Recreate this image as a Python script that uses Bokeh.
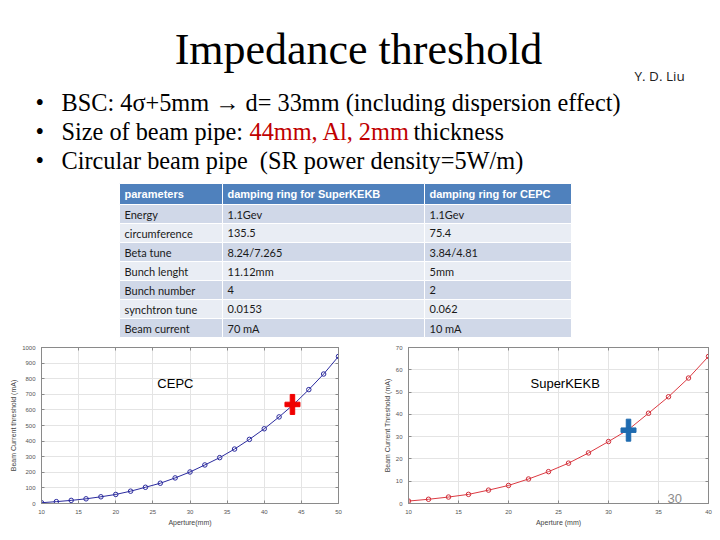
from bokeh.plotting import figure
from bokeh.models import (Range1d, LinearAxis, Label, SingleIntervalTicker,
                          CustomJSTickFormatter)
from bokeh.layouts import column, row
from bokeh.core.properties import value
from bokeh.embed import file_html
from bokeh.resources import INLINE

# ---- slide text ----
title = "Impedance threshold"
author = "Y. D. Liu"
bullet1 = "BSC: 4σ+5mm → d= 33mm (including dispersion effect)"
bullet2_parts = ["Size of beam pipe: ", "44mm, Al, 2mm", "thickness"]
bullet3 = "Circular beam pipe\u00a0\u00a0(SR power density=5W/m)"
page_number = "30"

# ---- parameter table ----
headers = ["parameters", "damping ring for SuperKEKB", "damping ring for CEPC"]
params = ["Energy", "circumference", "Beta tune", "Bunch lenght", "Bunch number",
          "synchtron tune", "Beam current"]
superkekb_vals = ["1.1Gev", "135.5", "8.24/7.265", "11.12mm", "4", "0.0153", "70 mA"]
cepc_vals = ["1.1Gev", "75.4", "3.84/4.81", "5mm", "2", "0.062", "10 mA"]

# ---- threshold curves ----
cepc_aperture = [10, 12, 14, 16, 18, 20, 22, 24, 26, 28, 30, 32, 34, 36, 38, 40,
                 42, 44, 46, 48, 50]
cepc_current = [5, 12, 20, 30, 43, 58, 79, 104, 130, 164, 202, 247, 294, 349, 411,
                479, 555, 637, 730, 830, 943]
cepc_mark = (43.8, 635)

kek_aperture = [10, 12, 14, 16, 18, 20, 22, 24, 26, 28, 30, 32, 34, 36, 38, 40]
kek_current = [1.1, 1.9, 2.9, 4.1, 6.0, 8.1, 11.0, 14.3, 18.1, 22.7, 27.8, 33.2,
               40.5, 47.9, 56.3, 66.0]
kek_mark = (32.0, 32.9)

SERIF = value("Liberation Serif")
SANS = value("Liberation Sans")

# ---------------- top part: title, bullets, table ----------------
top = figure(width=720, height=340, x_range=Range1d(0, 720), y_range=Range1d(340, 0),
             output_backend="svg", toolbar_location=None, min_border=0)
top.axis.visible = False
top.grid.visible = False
top.outline_line_color = None
top.background_fill_color = "white"
top.border_fill_color = "white"

top.text(x=[358], y=[49], text=[title], text_font=SERIF, text_font_size="44px",
         text_align="center", text_baseline="alphabetic", text_color="black")
top.text(x=[634], y=[75], text=[author], text_font=value("Open Sans"),
         text_font_size="13.5px", text_baseline="middle", text_color="#222222")

line_y = [102, 131, 160]
BODY = "24.3px"
top.text(x=[35] * 3, y=line_y, text=["•"] * 3, text_font=SERIF, text_font_size=BODY,
         text_baseline="alphabetic", text_color="black")
top.text(x=[61, 61], y=[line_y[0], line_y[2]], text=[bullet1, bullet3], text_font=SERIF,
         text_font_size=BODY, text_baseline="alphabetic", text_color="black")
top.text(x=[61, 413], y=[line_y[1]] * 2, text=[bullet2_parts[0], bullet2_parts[2]],
         text_font=SERIF, text_font_size=BODY, text_baseline="alphabetic",
         text_color="black")
top.text(x=[249], y=[line_y[1]], text=[bullet2_parts[1]], text_font=SERIF,
         text_font_size=BODY, text_baseline="alphabetic", text_color="#c00000")

# table cells
col_edges = [119, 222, 424, 571]
head_top, head_bot = 183, 204
row_h = 19
n_rows = len(params)

top.quad(left=[col_edges[i] for i in range(3)], right=[col_edges[i + 1] for i in range(3)],
         top=[head_top] * 3, bottom=[head_bot] * 3, fill_color="#4f81bd",
         line_color="white", line_width=1)
lefts, rights, tops, bots, fills = [], [], [], [], []
for r in range(n_rows):
    for c in range(3):
        lefts.append(col_edges[c])
        rights.append(col_edges[c + 1])
        tops.append(head_bot + r * row_h)
        bots.append(head_bot + (r + 1) * row_h)
        fills.append("#d0d8e8" if r % 2 == 0 else "#e9edf4")
top.quad(left=lefts, right=rights, top=tops, bottom=bots, fill_color=fills,
         line_color="white", line_width=1)

top.text(x=[e + 5 for e in col_edges[:3]], y=[(head_top + head_bot) / 2] * 3, text=headers,
         text_font=SANS, text_font_size="11px", text_font_style="bold",
         text_color="white", text_baseline="middle")
cell_text, cx, cy = [], [], []
for r in range(n_rows):
    for c, vals in enumerate([params, superkekb_vals, cepc_vals]):
        cell_text.append(vals[r])
        cx.append(col_edges[c] + 5)
        cy.append(head_bot + (r + 0.5) * row_h)
top.text(x=cx, y=cy, text=cell_text, text_font=value("Lato"), text_font_size="11px",
         text_color="#1a1a1a", text_baseline="middle")


# ---------------- bottom part: the two threshold plots ----------------
AXIS_GREY = "#8a8a8a"


def threshold_plot(width, height, xr, yr, xstep, ystep, borders, xlabel, ylabel):
    p = figure(width=width, height=height, x_range=Range1d(*xr), y_range=Range1d(*yr),
               output_backend="svg", toolbar_location=None,
               min_border_left=borders[0], min_border_right=borders[1],
               min_border_top=borders[2], min_border_bottom=borders[3])
    p.background_fill_color = "white"
    p.border_fill_color = "white"
    p.outline_line_color = AXIS_GREY
    p.xaxis.ticker = SingleIntervalTicker(interval=xstep)
    p.yaxis.ticker = SingleIntervalTicker(interval=ystep)
    p.xgrid.ticker = SingleIntervalTicker(interval=xstep)
    p.ygrid.ticker = SingleIntervalTicker(interval=ystep)
    p.grid.grid_line_color = "#e4e4e4"
    p.xaxis.axis_label = xlabel
    p.yaxis.axis_label = ylabel
    for ax in (p.xaxis, p.yaxis):
        ax.axis_line_color = AXIS_GREY
        ax.major_tick_line_color = AXIS_GREY
        ax.major_tick_in = 3
        ax.major_tick_out = 0
        ax.minor_tick_line_color = None
        ax.major_label_text_font_size = "6px"
        ax.major_label_text_color = "#555555"
        ax.major_label_text_font = "Liberation Sans"
        ax.major_label_standoff = 2
        ax.axis_label_text_font_size = "7px"
        ax.axis_label_text_font_style = "normal"
        ax.axis_label_text_font = "Liberation Sans"
        ax.axis_label_text_color = "#444444"
        ax.axis_label_standoff = 2
    # inward ticks along the top and right edges of the box
    for side, step in (("above", xstep), ("right", ystep)):
        ax = LinearAxis(ticker=SingleIntervalTicker(interval=step),
                        formatter=CustomJSTickFormatter(code="return ''"),
                        axis_line_color=AXIS_GREY, major_tick_line_color=AXIS_GREY,
                        major_tick_in=3, major_tick_out=0, minor_tick_line_color=None,
                        major_label_standoff=0)
        p.add_layout(ax, side)
    return p


def star_mark(p, x, y, color, w, h, t):
    # a bold plus sign drawn as two crossing bars of fixed pixel size
    p.rect(x=[x], y=[y], width=t, height=h, width_units="screen", height_units="screen",
           fill_color=color, line_color=color)
    p.rect(x=[x], y=[y], width=w, height=t, width_units="screen", height_units="screen",
           fill_color=color, line_color=color)


left = threshold_plot(380, 200, (10, 50), (0, 1000), 5, 100, (41, 42, 7, 37),
                      "Aperture(mm)", "Beam Current threshold (mA)")
left.line(cepc_aperture, cepc_current, line_color="#2b2b9e", line_width=1)
left.scatter(cepc_aperture, cepc_current, marker="circle", size=4.5, fill_color=None,
             line_color="#2b2b9e", line_width=1)
star_mark(left, cepc_mark[0], cepc_mark[1], "#f00000", 15, 20, 4.5)
left.add_layout(Label(x=25.6, y=769, text="CEPC", text_font="Liberation Sans",
                      text_font_size="13px", text_baseline="middle", text_color="black"))

right = threshold_plot(340, 200, (10, 40), (0, 70), 5, 10, (23, 12, 6, 31),
                       "Aperture (mm)", "Beam Current Threshold (mA)")
right.line(kek_aperture, kek_current, line_color="#dc3a42", line_width=1)
right.scatter(kek_aperture, kek_current, marker="circle", size=4.5, fill_color=None,
              line_color="#d0303a", line_width=1)
star_mark(right, kek_mark[0], kek_mark[1], "#1f6bb0", 15, 22, 4.5)
right.add_layout(Label(x=22.2, y=53.7, text="SuperKEKB", text_font="Liberation Sans",
                       text_font_size="13px", text_baseline="middle", text_color="black"))
# slide number, resting on the bottom edge of the frame
right.add_layout(Label(x=259, y=1, x_units="screen", y_units="screen", text=page_number,
                       text_font="Liberation Sans", text_font_size="13px",
                       text_baseline="bottom", text_color="#8c8c8c"))

layout = column(top, row(left, right, spacing=0), spacing=0)

open("out.html", "w").write(file_html(layout, INLINE))
